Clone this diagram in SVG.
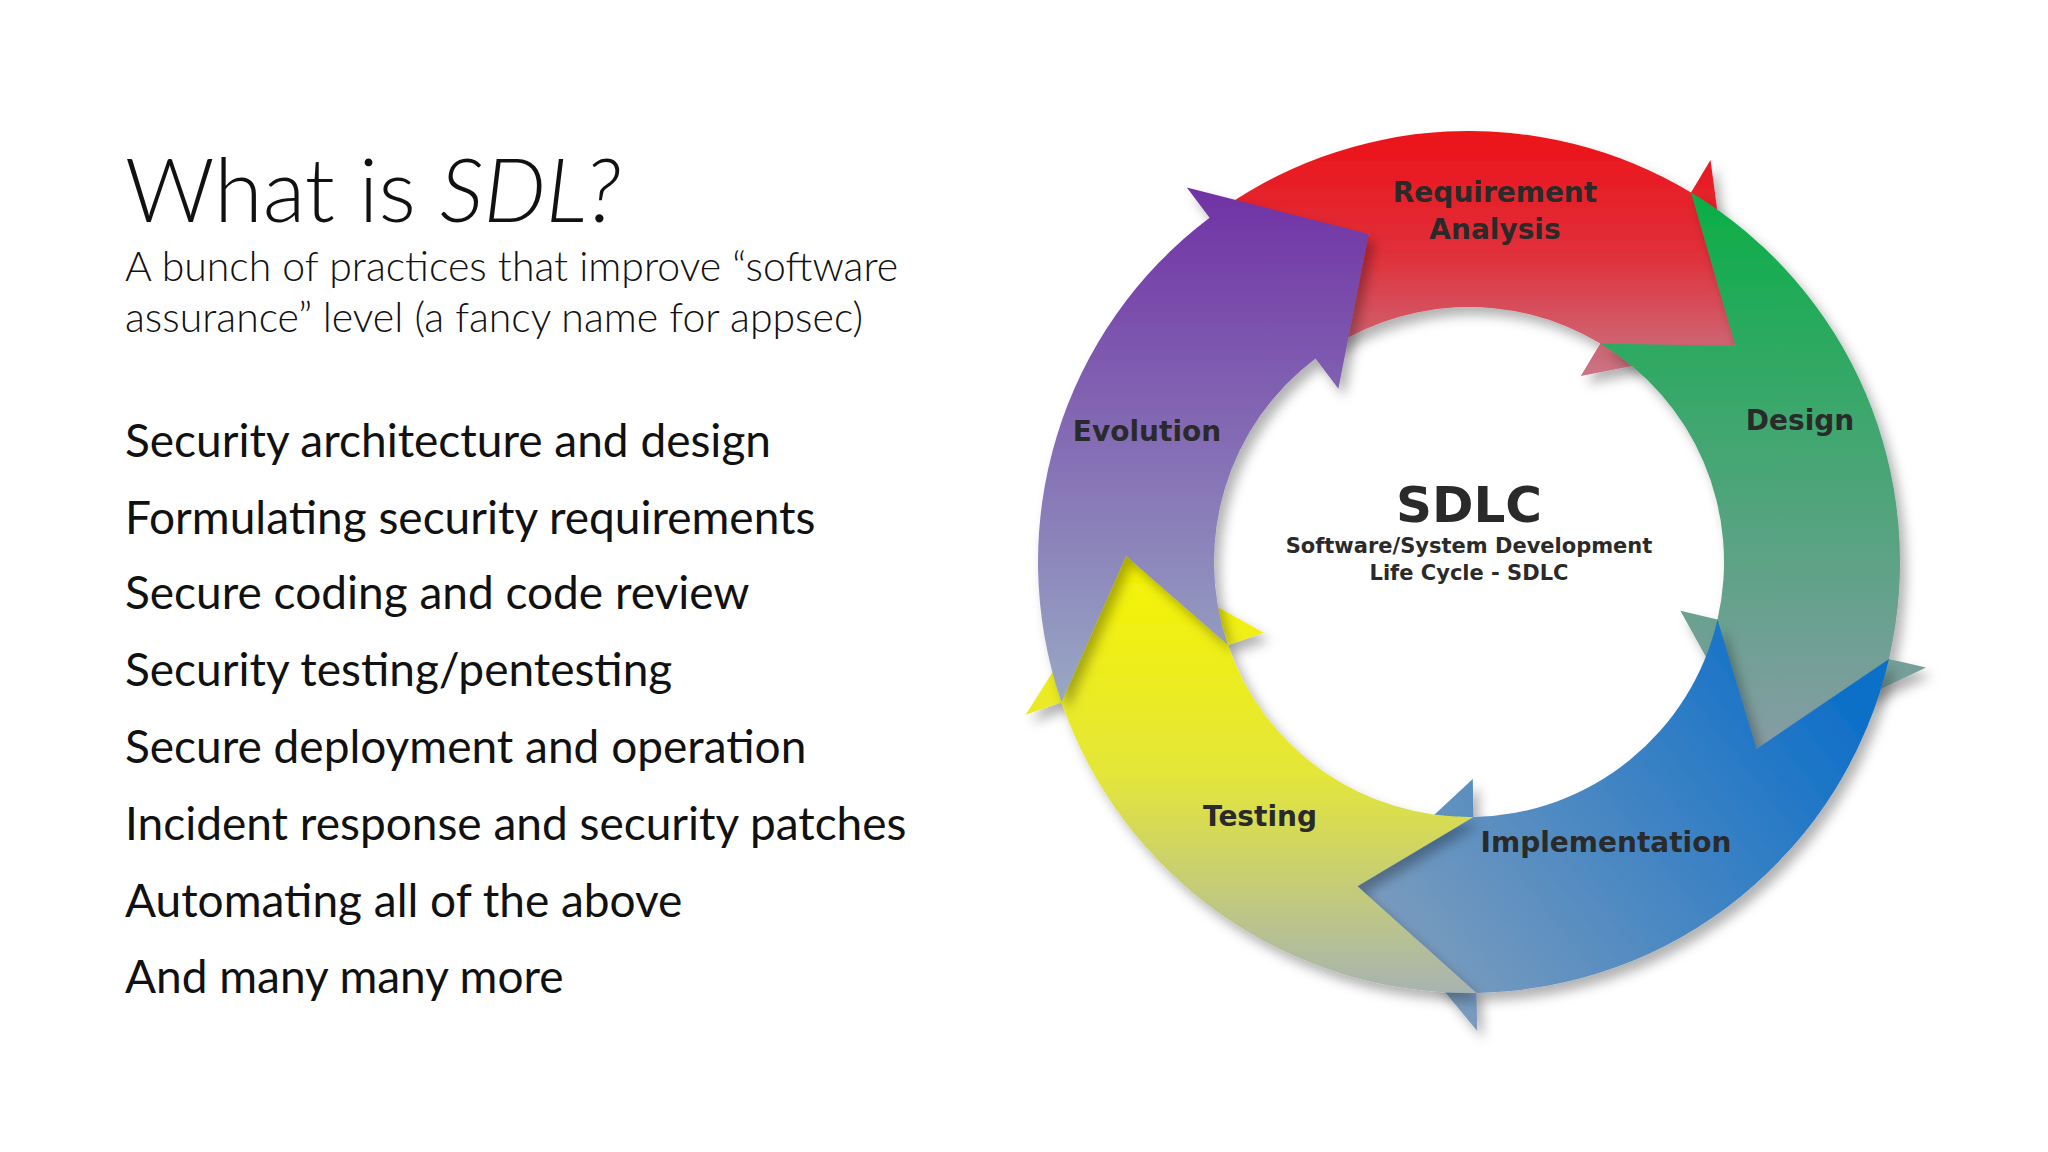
<svg xmlns="http://www.w3.org/2000/svg" width="2048" height="1152" viewBox="0 0 2048 1152">
<style>
.t{font-family:Lato,"Liberation Sans",sans-serif;fill:#111}
.l{font-family:"DejaVu Sans",Verdana,sans-serif;font-weight:bold;fill:#2a2a2a;text-anchor:middle;dominant-baseline:central}
.seg{stroke:none;filter:url(#sh)}
</style>
<defs>
<filter id="sh" x="-20%" y="-20%" width="140%" height="140%"><feDropShadow dx="6" dy="8" stdDeviation="6" flood-color="#000" flood-opacity="0.3"/></filter>
<linearGradient id="gr" gradientUnits="userSpaceOnUse" x1="0" y1="130" x2="0" y2="380"><stop offset="0" stop-color="#ec1218"/><stop offset="0.5" stop-color="#e0303a"/><stop offset="1" stop-color="#c87888"/></linearGradient>
<linearGradient id="gg" gradientUnits="userSpaceOnUse" x1="0" y1="200" x2="0" y2="760"><stop offset="0" stop-color="#0cae48"/><stop offset="1" stop-color="#8a9ca8"/></linearGradient>
<linearGradient id="gb" gradientUnits="userSpaceOnUse" x1="1800" y1="650" x2="1350" y2="1000"><stop offset="0" stop-color="#1070c8"/><stop offset="1" stop-color="#8aa2bc"/></linearGradient>
<linearGradient id="gy" gradientUnits="userSpaceOnUse" x1="0" y1="560" x2="0" y2="990"><stop offset="0" stop-color="#f6f400"/><stop offset="0.5" stop-color="#e4e63a"/><stop offset="1" stop-color="#a8b4b0"/></linearGradient>
<linearGradient id="gp" gradientUnits="userSpaceOnUse" x1="0" y1="180" x2="0" y2="700"><stop offset="0" stop-color="#7030a4"/><stop offset="1" stop-color="#98a8c4"/></linearGradient>
</defs>
<rect width="2048" height="1152" fill="#fff"/>
<g id="title">
<text class="t" x="125" y="222" font-size="88" font-weight="300">What is <tspan font-style="italic">SDL?</tspan></text>
<text class="t" x="125" y="281" font-size="41" font-weight="300" fill="#333">A bunch of practices that improve “software</text>
<text class="t" x="125" y="332" font-size="41" font-weight="300" fill="#333">assurance” level (a fancy name for appsec)</text>
</g>
<g id="bullets" font-size="46">
<text class="t" x="125" y="457">Security architecture and design</text>
<text class="t" x="125" y="534">Formulating security requirements</text>
<text class="t" x="125" y="609">Secure coding and code review</text>
<text class="t" x="125" y="686">Security testing/pentesting</text>
<text class="t" x="125" y="763">Secure deployment and operation</text>
<text class="t" x="125" y="840">Incident response and security patches</text>
<text class="t" x="125" y="917">Automating all of the above</text>
<text class="t" x="125" y="993">And many many more</text>
</g>
<g id="connectors">
<path class="seg" fill="url(#gr)" d="M1209.6,217.8 A431,431 0 0 1 1691,192.5 L1710.5,160 L1735.5,346.1 L1580.8,376 L1600.3,343.4 A255,255 0 0 0 1315.5,358.4 L1368.7,234 Z"/>
<path class="seg" fill="url(#gg)" d="M1691,192.5 A431,431 0 0 1 1889,659 L1926,667.5 L1756.7,748.8 L1680.4,610.8 L1717.5,619.4 A255,255 0 0 0 1600.3,343.4 L1735.5,346.1 Z"/>
<path class="seg" fill="url(#gb)" d="M1889,659 A431,431 0 0 1 1476.5,992.9 L1477.2,1030.9 L1357.3,886.3 L1472.8,779 L1473.4,817 A255,255 0 0 0 1717.5,619.4 L1756.7,748.8 Z"/>
<path class="seg" fill="url(#gy)" d="M1476.5,992.9 A431,431 0 0 1 1061.5,702.3 L1025.6,714.7 L1126.1,556 L1263.8,632.7 L1227.9,645 A255,255 0 0 0 1473.4,817 L1357.3,886.3 Z"/>
<path class="seg" fill="url(#gp)" d="M1061.5,702.3 A431,431 0 0 1 1209.6,217.8 L1186.8,187.5 L1368.7,234 L1338.4,388.7 L1315.5,358.4 A255,255 0 0 0 1227.9,645 L1126.1,556 Z"/>
</g>
<g id="n-req"><text class="l" x="1495" y="192" font-size="28">Requirement</text><text class="l" x="1495" y="229" font-size="28">Analysis</text></g>
<g id="n-design"><text class="l" x="1800" y="420" font-size="28">Design</text></g>
<g id="n-impl"><text class="l" x="1606" y="842" font-size="28">Implementation</text></g>
<g id="n-test"><text class="l" x="1260" y="816" font-size="28">Testing</text></g>
<g id="n-evo"><text class="l" x="1147" y="431" font-size="28">Evolution</text></g>
<g id="n-sdlc"><text class="l" x="1469" y="505" font-size="50" fill="#111">SDLC</text><text class="l" x="1469" y="546" font-size="21">Software/System Development</text><text class="l" x="1469" y="573" font-size="21">Life Cycle - SDLC</text></g>
</svg>
